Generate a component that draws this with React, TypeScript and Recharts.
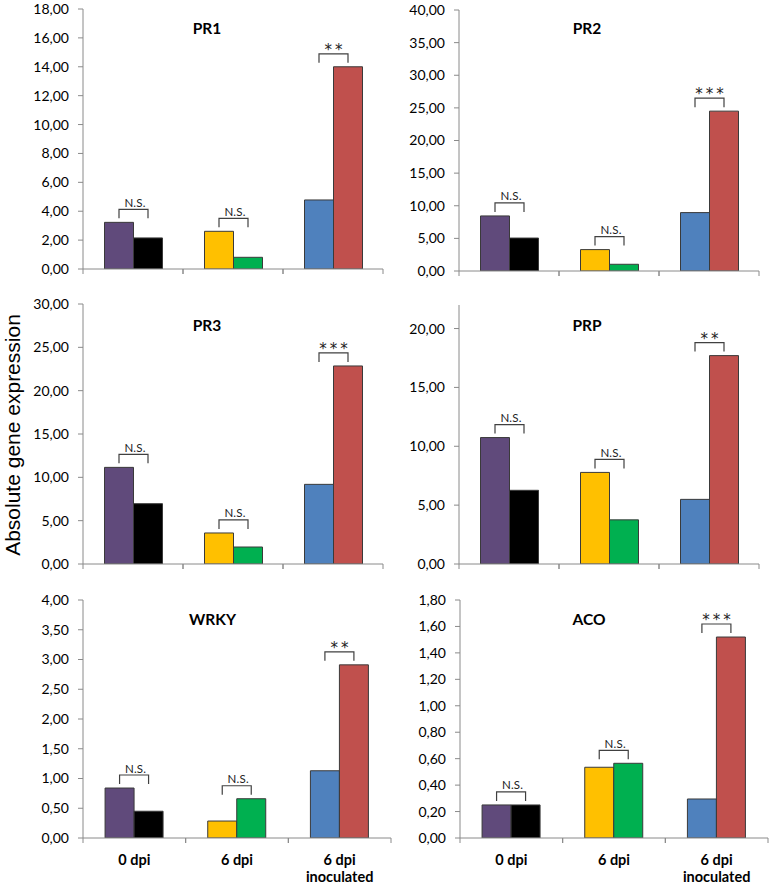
import React from 'react'
import { BarChart, Bar, XAxis, YAxis, Cell, LabelList } from 'recharts'

const categories = ['0 dpi', '6 dpi', '6 dpi\ninoculated']

const pr1Left = [3.23, 2.61, 4.78]
const pr1Right = [2.15, 0.81, 14.0]
const pr2Left = [8.44, 3.28, 8.95]
const pr2Right = [5.05, 1.03, 24.5]
const pr3Left = [11.15, 3.58, 9.19]
const pr3Right = [6.96, 1.96, 22.85]
const prpLeft = [10.74, 7.78, 5.49]
const prpRight = [6.26, 3.75, 17.7]
const wrkyLeft = [0.84, 0.285, 1.13]
const wrkyRight = [0.45, 0.66, 2.91]
const acoLeft = [0.25, 0.535, 0.295]
const acoRight = [0.25, 0.565, 1.52]

const pr1Sig = ['N.S.', 'N.S.', '**']
const pr2Sig = ['N.S.', 'N.S.', '***']
const pr3Sig = ['N.S.', 'N.S.', '***']
const prpSig = ['N.S.', 'N.S.', '**']
const wrkySig = ['N.S.', 'N.S.', '**']
const acoSig = ['N.S.', 'N.S.', '***']

const pr1Ticks = [0, 2, 4, 6, 8, 10, 12, 14, 16, 18]
const pr2Ticks = [0, 5, 10, 15, 20, 25, 30, 35, 40]
const pr3Ticks = [0, 5, 10, 15, 20, 25, 30]
const prpTicks = [0, 5, 10, 15, 20]
const wrkyTicks = [0, 0.5, 1, 1.5, 2, 2.5, 3, 3.5, 4]
const acoTicks = [0, 0.2, 0.4, 0.6, 0.8, 1, 1.2, 1.4, 1.6, 1.8]

const leftColors = ['#604A7B', '#FFC000', '#4F81BD']
const rightColors = ['#000000', '#00B050', '#C0504D']

const axisColor = '#8a8a8a'
const font = 'Lato, "Open Sans", sans-serif'

type PanelProps = {
  title: string
  left: number[]
  right: number[]
  sig: string[]
  ticks: number[]
  max: number
  boxX: number
  boxY: number
  width: number
  plotLeft: number
  plotRight: number
  plotTop: number
  plotBottom: number
  titleX: number
  titleY: number
  labels?: boolean
}

const fmt = (v: number) => v.toFixed(2).replace('.', ',')

function Panel(p: PanelProps) {
  const data = categories.map((name, i) => ({ name, a: p.left[i], b: p.right[i] }))
  const xAxisH = p.labels ? 50 : 8
  const height = p.plotBottom - p.boxY + xAxisH + 2
  const catW = (p.plotRight - p.plotLeft) / 3

  const renderTick = (props: any) => {
    const { x, y, payload } = props
    const lines = p.labels ? String(payload.value).split('\n') : []
    return (
      <g>
        <line x1={x - catW / 2} x2={x - catW / 2} y1={y} y2={y + 5} stroke={axisColor} />
        <line x1={x + catW / 2} x2={x + catW / 2} y1={y} y2={y + 5} stroke={axisColor} />
        {lines.map((l, k) => (
          <text key={k} x={x} y={y + 27 + k * 17} textAnchor="middle" fontFamily={font}
            fontWeight={700} fontSize={14.5} fill="#000">{l}</text>
        ))}
      </g>
    )
  }

  const renderBracket = (props: any) => {
    const vb = props.viewBox ?? props
    const i = categories.indexOf(props.value)
    if (i < 0) return null
    const { x, y, width, height: h } = vb
    const base = y + h
    const k = h / p.left[i]
    const topY = Math.min(y, base - p.right[i] * k)
    const x1 = x + width / 2
    const x2 = x + width * 1.5
    const yb = topY - 4
    const yt = yb - 9
    const stars = p.sig[i] !== 'N.S.'
    return (
      <g>
        <path d={`M${x1},${yb}L${x1},${yt}L${x2},${yt}L${x2},${yb}`} fill="none" stroke="#404040" strokeWidth={1.2} />
        <text x={(x1 + x2) / 2 + 1.5} y={stars ? yt + 1 : yt - 2.5} textAnchor="middle"
          fontFamily={stars ? '"DejaVu Sans", sans-serif' : font}
          fontSize={stars ? 15 : 11.5} letterSpacing={stars ? 3 : 0.2} fill="#222">{p.sig[i]}</text>
      </g>
    )
  }

  return (
    <>
      <div style={{ position: 'absolute', left: p.boxX, top: p.boxY }}>
        <BarChart width={p.width} height={height} data={data} barCategoryGap="21.5%" barGap={0}
          margin={{ top: p.plotTop - p.boxY, right: p.boxX + p.width - p.plotRight, left: 0, bottom: 2 }}>
          <XAxis dataKey="name" height={xAxisH} tickSize={0} tickMargin={0} tickLine={false}
            stroke={axisColor} tick={renderTick} interval={0} />
          <YAxis width={p.plotLeft - p.boxX} domain={[0, p.max]} ticks={p.ticks} allowDataOverflow
            tickFormatter={fmt} tickSize={5} tickMargin={9} stroke={axisColor}
            tick={{ fill: '#000', fontSize: 14, fontFamily: font }} />
          <Bar dataKey="a" isAnimationActive={false} stroke="#3a3a3a" strokeWidth={1}>
            {data.map((_, i) => <Cell key={i} fill={leftColors[i]} />)}
            <LabelList dataKey="name" content={renderBracket} />
          </Bar>
          <Bar dataKey="b" isAnimationActive={false} stroke="#3a3a3a" strokeWidth={1}>
            {data.map((_, i) => <Cell key={i} fill={rightColors[i]} />)}
          </Bar>
        </BarChart>
      </div>
      <div style={{
        position: 'absolute', left: p.titleX, top: p.titleY, transform: 'translate(-50%, -50%)',
        fontFamily: font, fontWeight: 700, fontSize: 15.5, color: '#000', whiteSpace: 'nowrap',
      }}>{p.title}</div>
    </>
  )
}

export default function App() {
  return (
    <div style={{ position: 'absolute', left: 0, top: 0, width: 772, height: 886, background: '#fff' }}>
      <Panel title="PR1" left={pr1Left} right={pr1Right} sig={pr1Sig} ticks={pr1Ticks} max={18}
        boxX={0} boxY={0} width={390} plotLeft={83} plotRight={383} plotTop={9} plotBottom={269}
        titleX={207} titleY={28} />
      <Panel title="PR2" left={pr2Left} right={pr2Right} sig={pr2Sig} ticks={pr2Ticks} max={40}
        boxX={390} boxY={0} width={380} plotLeft={459} plotRight={759} plotTop={10} plotBottom={271}
        titleX={587} titleY={28} />
      <Panel title="PR3" left={pr3Left} right={pr3Right} sig={pr3Sig} ticks={pr3Ticks} max={30}
        boxX={0} boxY={285} width={390} plotLeft={83} plotRight={383} plotTop={304} plotBottom={564}
        titleX={207} titleY={324.5} />
      <Panel title="PRP" left={prpLeft} right={prpRight} sig={prpSig} ticks={prpTicks} max={22}
        boxX={390} boxY={285} width={380} plotLeft={459} plotRight={759} plotTop={305} plotBottom={564}
        titleX={587} titleY={324.5} />
      <Panel title="WRKY" left={wrkyLeft} right={wrkyRight} sig={wrkySig} ticks={wrkyTicks} max={4}
        boxX={0} boxY={580} width={393} plotLeft={83} plotRight={391} plotTop={600} plotBottom={838}
        titleX={212.5} titleY={619} labels />
      <Panel title="ACO" left={acoLeft} right={acoRight} sig={acoSig} ticks={acoTicks} max={1.8}
        boxX={393} boxY={580} width={379} plotLeft={460} plotRight={768} plotTop={600} plotBottom={838}
        titleX={589} titleY={619} labels />
      <div style={{
        position: 'absolute', left: 13, top: 435, transform: 'translate(-50%, -50%) rotate(-90deg)',
        fontFamily: '"Liberation Sans", Arial, sans-serif', fontSize: 21, color: '#000', whiteSpace: 'nowrap',
      }}>Absolute gene expression</div>
    </div>
  )
}
